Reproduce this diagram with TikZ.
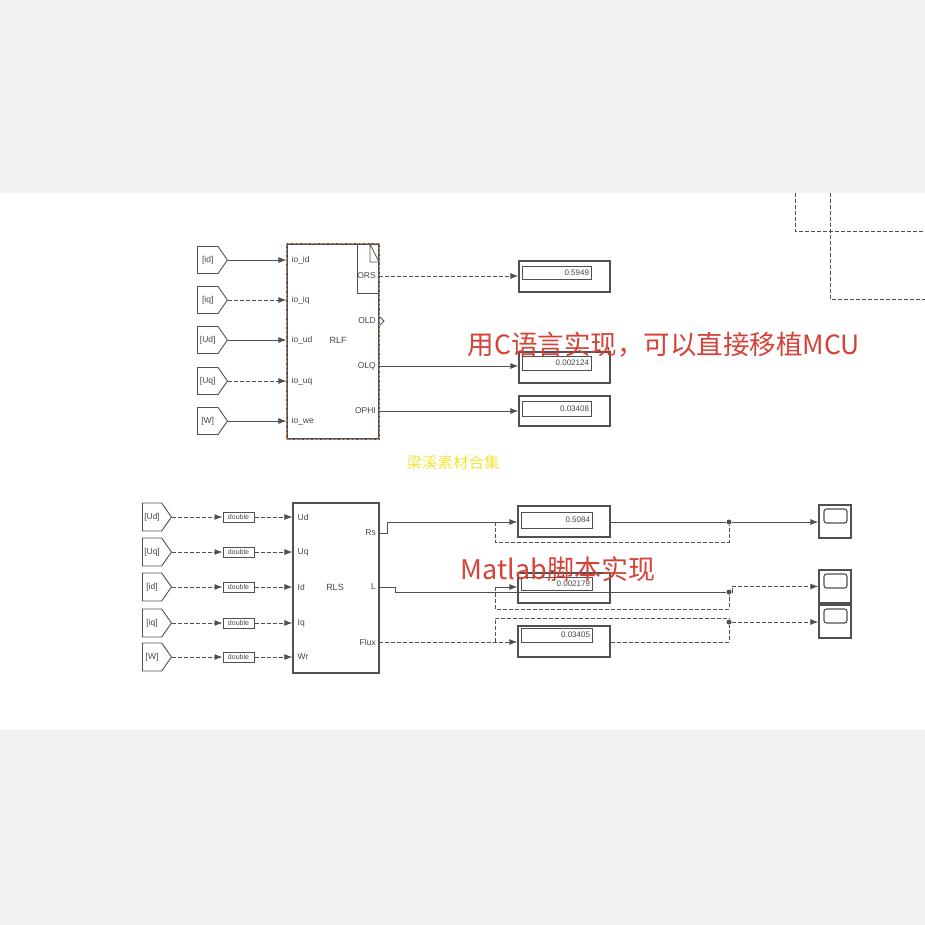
\documentclass[tikz,border=0pt]{standalone}
\usepackage{fontspec}
\setmainfont{Liberation Sans}
\newfontfamily\cjk{Noto Sans CJK SC}
\usetikzlibrary{shapes.symbols,arrows.meta,calc}
\definecolor{bgband}{RGB}{242,242,242}
\definecolor{ln}{RGB}{80,80,80}
\definecolor{lbl}{RGB}{70,70,70}
\definecolor{sel}{RGB}{205,150,100}
\definecolor{redtxt}{RGB}{212,66,56}
\definecolor{yel}{RGB}{242,230,60}
\tikzset{
  fromblk/.style={signal, signal to=east, signal pointer angle=110, draw=ln, line width=0.9pt,
    minimum height=27pt, inner sep=0pt, font=\fontsize{8.5}{9}\selectfont, text=lbl},
  conn/.style={draw=ln, line width=0.9pt, -{Latex[length=8pt,width=6pt]}},
  wire/.style={draw=ln, line width=0.9pt},
  dwire/.style={draw=ln, line width=0.9pt, dash pattern=on 4pt off 2pt},
  dconn/.style={conn, dash pattern=on 4pt off 2pt},
  blk/.style={draw=ln, line width=1.1pt, fill=white, inner sep=0pt},
  portl/.style={font=\fontsize{8.5}{9}\selectfont, text=lbl, anchor=west, inner sep=0pt},
  portr/.style={font=\fontsize{8.5}{9}\selectfont, text=lbl, anchor=east, inner sep=0pt},
  dispout/.style={draw=ln, line width=1.2pt, inner sep=0pt, fill=white},
  dispin/.style={draw=ln, line width=0.8pt, inner xsep=2pt, inner ysep=0pt, align=right,
    font=\fontsize{8}{8}\selectfont, text=lbl},
  convblk/.style={draw=ln, line width=1pt, fill=white, inner sep=0pt,
    minimum width=31pt, minimum height=10pt, font=\fontsize{7}{7}\selectfont, text=lbl},
  scopeblk/.style={draw=ln, line width=1.2pt, fill=white,
    minimum width=32pt, minimum height=33pt, inner sep=0pt},
  screen/.style={draw=ln, line width=1.1pt, rounded corners=2.5pt, minimum width=23pt, minimum height=14pt, inner sep=0pt},
  jdot/.style={circle, fill=ln, inner sep=0pt, minimum size=5pt},
}
\begin{document}
\begin{tikzpicture}[x=1pt,y=-1pt]
\useasboundingbox (0,0) rectangle (925,925);
\fill[white] (0,0) rectangle (925,925);
\fill[bgband] (0,0) rectangle (925,193);
\fill[bgband] (0,730) rectangle (925,925);

% top-right wires
\coordinate (tr1) at (795,193); \coordinate (tr1b) at (795,231); \coordinate (tr1c) at (925,231);
\coordinate (tr2) at (830,193); \coordinate (tr2b) at (830,299); \coordinate (tr2c) at (925,299);
\draw[dwire] (tr1) -- (tr1b) -- (tr1c);
\draw[dwire] (tr2) -- (tr2b) -- (tr2c);

% ---------- top section ----------
\foreach \n/\y/\t in {1/260/{[id]},2/300/{[iq]},3/340/{[Ud]},4/381/{[Uq]},5/421/{[W]}}{
  \node[fromblk, minimum width=30pt, anchor=west] (f\n) at (197,\y) {\t};
}
\node[blk, minimum width=92pt, minimum height=195pt] (rlf) at (333,341.5) {};
\draw[sel, line width=1.4pt, dash pattern=on 3pt off 1.5pt] (rlf.south west) rectangle (rlf.north east);
\node[font=\fontsize{9}{10}\selectfont, text=lbl] (rlft) at (338,340) {RLF};
\foreach \n/\t in {1/io\_id,2/io\_iq,3/io\_ud,4/io\_uq,5/io\_we}{
  \node[portl] (pin\n) at ([xshift=5pt]f\n.east -| rlf.west) {\t};
}
\draw[conn] (f1.east) -- (f1.east -| rlf.west);
\draw[dconn] (f2.east) -- (f2.east -| rlf.west);
\draw[conn] (f3.east) -- (f3.east -| rlf.west);
\draw[dconn] (f4.east) -- (f4.east -| rlf.west);
\draw[conn] (f5.east) -- (f5.east -| rlf.west);
% doc icon
\coordinate (di1) at (357,244); \coordinate (di2) at (357,293); \coordinate (di3) at (379,293);
\draw[ln, line width=0.7pt] (di1) -- (di2) -- (di3);
\coordinate (fo1) at (370,244); \coordinate (fo2) at (370,262); \coordinate (fo3) at (379,262);
\draw[ln, line width=0.7pt] (fo1) -- (fo2) -- (fo3) -- cycle;

\coordinate (ors) at (379,276);
\coordinate (old) at (379,321);
\coordinate (olq) at (379,366);
\coordinate (ophi) at (379,411);
\node[portr] (ors t) at ([xshift=-3pt]ors) {ORS};
\node[portr] (old t) at ([xshift=-3pt]old) {OLD};
\node[portr] (olq t) at ([xshift=-3pt]olq) {OLQ};
\node[portr] (ophi t) at ([xshift=-3pt]ophi) {OPHI};
\draw[ln, line width=1pt] ([xshift=1pt,yshift=-4pt]old) -- ([xshift=5pt]old) -- ([xshift=1pt,yshift=4pt]old);

\node[dispout, minimum width=91pt, minimum height=31pt] (d1) at (564.5,276.5) {};
\node[dispin, text width=65pt, minimum height=13pt] (d1v) at (556.5,272.5) {0.5949};
\node[dispout, minimum width=91pt, minimum height=31pt] (d2) at (564.5,367.5) {};
\node[dispin, text width=65pt, minimum height=14pt] (d2v) at (556.5,363) {0.002124};
\node[dispout, minimum width=91pt, minimum height=30pt] (d3) at (564.5,411) {};
\node[dispin, text width=65pt, minimum height=15pt] (d3v) at (556.5,408.5) {0.03408};

\draw[dconn] (ors) -- (ors -| d1.west);
\draw[conn] (olq) -- (olq -| d2.west);
\draw[conn] (ophi) -- (ophi -| d3.west);

\node[text=redtxt, font=\cjk\fontsize{26.5}{29}\selectfont, inner sep=0pt] (ctext) at (664,345) {用C语言实现，可以直接移植MCU};
\node[text=yel, font=\cjk\fontsize{15.5}{16}\selectfont, inner sep=0pt] (wm) at (453,463) {梁溪素材合集};

% ---------- bottom section ----------
\node[blk, minimum width=86pt, minimum height=170pt] (rls) at (336,588) {};
\node[font=\fontsize{9}{10}\selectfont, text=lbl] (rlst) at (335,587) {RLS};
\foreach \n/\y/\t/\p in {1/517/{[Ud]}/Ud,2/552/{[Uq]}/Uq,3/587/{[id]}/Id,4/623/{[iq]}/Iq,5/657/{[W]}/Wr}{
  \node[fromblk, minimum width=29pt, minimum height=28pt, anchor=west] (g\n) at (142,\y) {\t};
  \node[convblk] (c\n) at (238.5,\y) {double};
  \draw[dconn] (g\n.east) -- (c\n.west);
  \draw[dconn] (c\n.east) -- (c\n.east -| rls.west);
  \node[portl] (rin\n) at ([xshift=5pt]c\n.east -| rls.west) {\p};
}
\coordinate (rs) at (379,533);
\coordinate (lo) at (379,587);
\coordinate (fx) at (379,642);
\node[portr] (rs t) at ([xshift=-3pt]rs) {Rs};
\node[portr] (lo t) at ([xshift=-3pt]lo) {L};
\node[portr] (fx t) at ([xshift=-3pt]fx) {Flux};

\node[dispout, minimum width=92pt, minimum height=31pt] (e1) at (564,521.5) {};
\node[dispin, text width=67pt, minimum height=16pt] (e1v) at (556.5,520) {0.5084};
\node[dispout, minimum width=92pt, minimum height=30pt] (e2) at (564,588) {};
\node[dispin, text width=67pt, minimum height=13pt] (e2v) at (556.5,583.5) {0.002179};
\node[dispout, minimum width=92pt, minimum height=31pt] (e3) at (564,641.5) {};
\node[dispin, text width=67pt, minimum height=14pt] (e3v) at (556.5,635) {0.03405};

\node[scopeblk] (s1) at (835,521.5) {};
\node[screen] (s1s) at (835.5,516) {};
\node[scopeblk] (s2) at (835,586.5) {};
\node[screen] (s2s) at (835.5,581) {};
\node[scopeblk] (s3) at (835,621.5) {};
\node[screen] (s3s) at (835.5,616) {};

\node[jdot] (j1) at (729,522) {};
\node[jdot] (j2) at (729,592) {};
\node[jdot] (j3) at (729,622) {};

% Rs
\coordinate (rsa) at (387,533); \coordinate (rsb) at (387,522);
\draw[conn] (rs) -- (rsa) -- (rsb) -- (rsb -| e1.west);
\draw[wire] (rsb -| e1.east) -- (j1);
\draw[conn] (j1) -- (j1 -| s1.west);
\coordinate (b1) at (495,522); \coordinate (b1d) at (495,542); \coordinate (j1d) at (729,542);
\draw[dwire] (b1) -- (b1d) -- (j1d) -- (j1);

% L
\coordinate (la) at (395,587); \coordinate (lb) at (395,592);
\draw[wire] (lo) -- (la) -- (lb) -- (j2);
\coordinate (b2) at (495,587); \coordinate (b2d) at (495,609); \coordinate (j2d) at (729,609);
\draw[conn] (b2) -- (b2 -| e2.west);
\draw[dwire] (b2) -- (b2d) -- (j2d) -- (j2);
\coordinate (j2r) at (732,592);
\draw[dconn] (j2) -- (j2r) |- (s2.west);

% Flux
\draw[dconn] (fx) -- (fx -| e3.west);
\coordinate (fxe) at (729,642);
\draw[dwire] (fx -| e3.east) -- (fxe) -- (j3);
\coordinate (b3) at (495,642); \coordinate (b3u) at (495,618); \coordinate (j3u) at (729,618);
\draw[dwire] (b3) -- (b3u) -- (j3u) -- (j3);
\draw[dconn] (j3) -- (j3 -| s3.west);

\node[text=redtxt, font=\cjk\fontsize{27}{29}\selectfont, inner sep=0pt] (mtext) at (558,569) {Matlab脚本实现};
\end{tikzpicture}
\end{document}
